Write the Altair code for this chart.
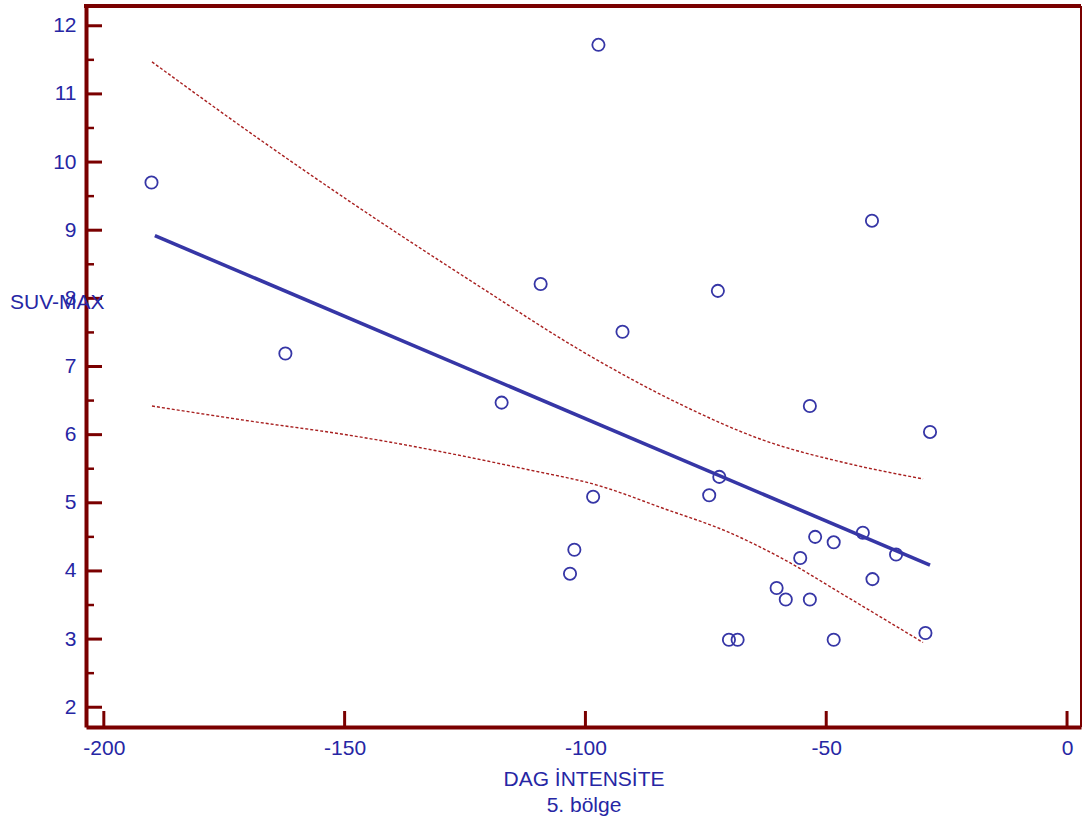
import altair as alt
import pandas as pd

# ---- data ----
pt_x = [-190.1, -162.3, -117.4, -109.3, -97.3, -92.3, -98.4, -102.3, -103.2, -74.3,
        -72.2, -72.5, -70.2, -68.4, -60.3, -58.4, -55.4, -53.4, -53.4, -52.3,
        -48.45, -48.45, -42.4, -40.5, -40.4, -35.5, -28.45, -29.4]
pt_y = [9.70, 7.19, 6.47, 8.21, 11.72, 7.51, 5.09, 4.31, 3.96, 5.11,
        5.38, 8.11, 2.99, 2.99, 3.75, 3.58, 4.19, 6.42, 3.58, 4.50,
        4.42, 2.99, 4.56, 9.14, 3.88, 4.24, 6.04, 3.09]

fit_x = [-189.4, -28.45]
fit_y = [8.92, 4.085]

up_x = [-190.0, -167.6, -148.9, -121.9, -101.1, -80.4, -63.1, -45.7, -29.9]
up_y = [11.47, 10.33, 9.42, 8.17, 7.24, 6.45, 5.92, 5.58, 5.35]

lo_x = [-190.0, -169.7, -148.9, -111.5, -97.6, -83.9, -70.0, -59.6, -45.7, -29.9]
lo_y = [6.42, 6.20, 5.99, 5.48, 5.26, 4.92, 4.56, 4.20, 3.62, 2.95]

x_ticks = [-200, -150, -100, -50, 0]
y_major = [2, 3, 4, 5, 6, 7, 8, 9, 10, 11, 12]
y_minor = [2.5, 3.5, 4.5, 5.5, 6.5, 7.5, 8.5, 9.5, 10.5, 11.5]

# ---- style ----
W, H = 995, 721
FRAME = "#7a0000"
BLUE = "#3636a6"
TXT = "#2626a4"
FONT = "Liberation Sans"
FS = 21

xdom = [-203.7, 2.9]
ydom = [1.71, 12.29]

xaxis = alt.Axis(values=x_ticks, ticks=False, tickSize=0, grid=False,
                 domainColor=FRAME, domainWidth=4, labelColor=TXT,
                 labelFont=FONT, labelFontSize=FS, labelPadding=10,
                 labelExpr="'' + datum.value",
                 title=["DAG İNTENSİTE", "5. bölge"], titleColor=TXT,
                 titleFont=FONT, titleFontSize=FS, titleFontWeight="normal",
                 titlePadding=10, titleLineHeight=26)
yaxis = alt.Axis(values=y_major, ticks=False, tickSize=0, grid=False,
                 domainColor=FRAME, domainWidth=4, labelColor=TXT,
                 labelFont=FONT, labelFontSize=FS, labelPadding=10,
                 labelExpr="'' + datum.value", title=None)


def X(field):
    return alt.X(field, type="quantitative", scale=alt.Scale(domain=xdom, nice=False, zero=False), axis=xaxis)


def Y(field):
    return alt.Y(field, type="quantitative", scale=alt.Scale(domain=ydom, nice=False, zero=False), axis=yaxis)


pts = pd.DataFrame({"x": pt_x, "y": pt_y})
fit = pd.DataFrame({"x": fit_x, "y": fit_y})
up = pd.DataFrame({"x": up_x, "y": up_y})
lo = pd.DataFrame({"x": lo_x, "y": lo_y})

points = alt.Chart(pts).mark_point(shape="circle", filled=False, size=150,
                                   color=BLUE, strokeWidth=1.8, opacity=1).encode(x=X("x"), y=Y("y"))
fitline = alt.Chart(fit).mark_line(color=BLUE, strokeWidth=3.6).encode(x=X("x"), y=Y("y"))
upper = alt.Chart(up).mark_line(color="#a82020", strokeWidth=1.4, strokeDash=[3, 2],
                                interpolate="monotone").encode(x=X("x"), y=Y("y"))
lower = alt.Chart(lo).mark_line(color="#a82020", strokeWidth=1.4, strokeDash=[3, 2],
                                interpolate="monotone").encode(x=X("x"), y=Y("y"))

ymaj = alt.Chart(pd.DataFrame({"v": y_major})).mark_rule(color=FRAME, strokeWidth=3).encode(
    y=Y("v"), x=alt.value(0), x2=alt.value(16))
ymin = alt.Chart(pd.DataFrame({"v": y_minor})).mark_rule(color=FRAME, strokeWidth=2.5).encode(
    y=Y("v"), x=alt.value(0), x2=alt.value(8))
xmaj = alt.Chart(pd.DataFrame({"v": x_ticks})).mark_rule(color=FRAME, strokeWidth=3).encode(
    x=X("v"), y=alt.value(H), y2=alt.value(H - 16))

top_line = alt.Chart(pd.DataFrame({"a": [0]})).mark_rule(color=FRAME, strokeWidth=4).encode(
    x=alt.value(-2), x2=alt.value(W), y=alt.value(0))
right_line = alt.Chart(pd.DataFrame({"a": [0]})).mark_rule(color=FRAME, strokeWidth=2).encode(
    x=alt.value(W), y=alt.value(0), y2=alt.value(H))

ytitle = alt.Chart(pd.DataFrame({"t": ["SUV-MAX"]})).mark_text(
    align="left", baseline="middle", font=FONT, fontSize=FS, color=TXT).encode(
    text="t:N", x=alt.value(-76), y=alt.value(297))

chart = alt.layer(upper, lower, fitline, points, ymaj, ymin, xmaj, top_line, right_line, ytitle).properties(
    width=W, height=H,
    autosize=alt.AutoSizeParams(type="none"),
    padding={"left": 86, "top": 6, "right": 2, "bottom": 103},
).configure_view(stroke=None).configure(background="white")

chart.save("out.html", embed_options={"renderer": "svg", "actions": False})
